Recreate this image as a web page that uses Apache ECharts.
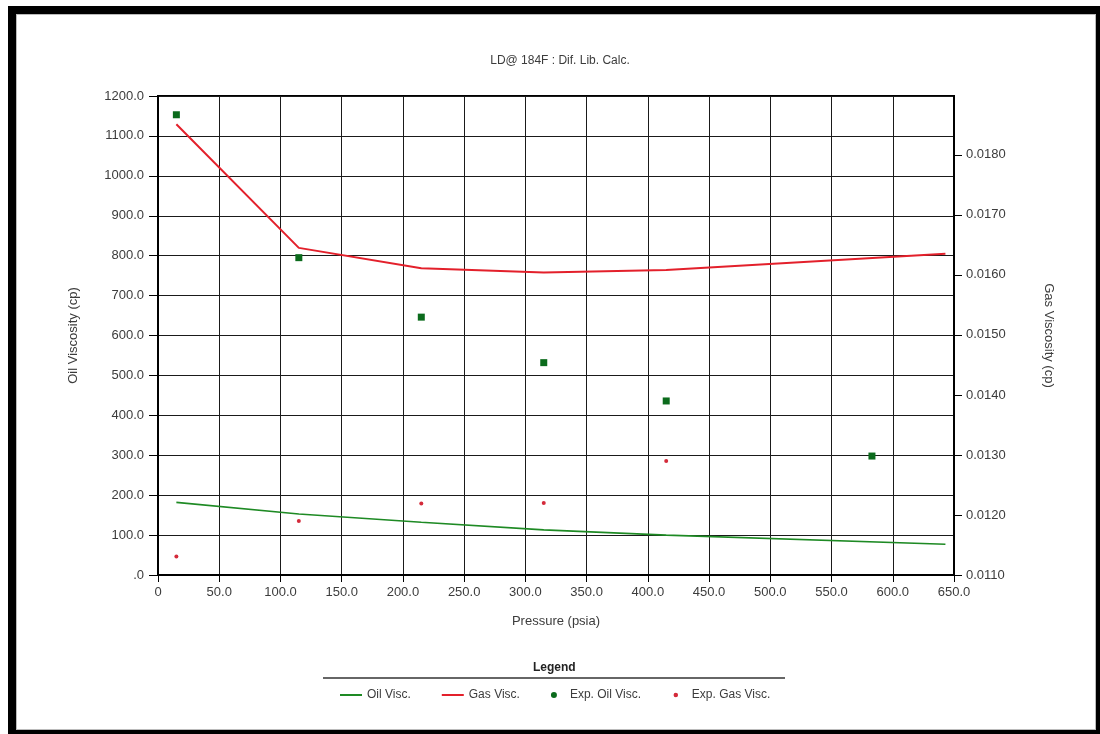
<!DOCTYPE html>
<html>
<head>
<meta charset="utf-8">
<script src="https://cdn.jsdelivr.net/npm/echarts@6/dist/echarts.min.js"></script>
<style>
  html, body { margin: 0; padding: 0; background: #fff; }
  #chart { position: absolute; left: 0; top: 0; width: 1100px; height: 734px; }
  #frame { position: absolute; left: 8px; top: 6px; width: 1092px; height: 728px; box-sizing: border-box;
           border-left: 8px solid #000; border-top: 8px solid #000; border-right: 4px solid #000; border-bottom: 4px solid #000;
           pointer-events: none; box-shadow: inset 0 0 0 1px #bbb; }
</style>
</head>
<body>
<div id="chart"></div>
<div id="frame"></div>
<script>
// ---- data ----
const calcPressure = [15, 115, 215, 315, 415, 643];
const oilVisc = [182, 153, 132, 113, 100, 77];
const gasVisc = [0.01851, 0.01645, 0.01611, 0.01604, 0.01608, 0.01635];

const expPressure = [15, 115, 215, 315, 415, 583];
const expOilVisc = [1153, 795, 646, 532, 436, 298];
const expGasPressure = [15, 115, 215, 315, 415];
const expGasVisc = [0.01131, 0.0119, 0.01219, 0.0122, 0.0129];

const gasTicks = [0.011, 0.012, 0.013, 0.014, 0.015, 0.016, 0.017, 0.018];

const titleText = 'LD@ 184F : Dif. Lib. Calc.';

const zip = (xs, ys) => xs.map((x, i) => [x, ys[i]]);

const FONT = 'Liberation Sans';
const TXT = '#3c3c3c';
const LINE_ICON = 'path://M0,0 L22,0 L22,2 L0,2 Z';

const chart = echarts.init(document.getElementById('chart'), null, { renderer: 'canvas' });
chart.setOption({
  backgroundColor: '#fff',
  animation: false,
  textStyle: { fontFamily: FONT },
  title: {
    text: titleText, left: 555, top: 50, textAlign: 'center',
    textStyle: { fontFamily: FONT, fontSize: 12, fontWeight: 'normal', color: TXT }
  },
  grid: { left: 158, right: 146, top: 96, bottom: 159, show: true, borderColor: '#000', borderWidth: 2, backgroundColor: 'transparent' },
  xAxis: {
    type: 'value', min: 0, max: 650, interval: 50,
    name: 'Pressure (psia)', nameLocation: 'middle', nameGap: 40,
    nameTextStyle: { fontFamily: FONT, fontSize: 13, color: TXT },
    axisLine: { show: true, lineStyle: { color: '#000', width: 2 } },
    axisTick: { show: true, length: 7, lineStyle: { color: '#000', width: 1 } },
    axisLabel: { margin: 11, fontFamily: FONT, fontSize: 13, color: TXT,
      formatter: v => v === 0 ? '0' : v.toFixed(1) },
    splitLine: { show: true, lineStyle: { color: '#1a1a1a', width: 1 } }
  },
  yAxis: [
    {
      type: 'value', min: 0, max: 1200, interval: 100, position: 'left',
      name: 'Oil Viscosity (cp)', nameLocation: 'middle', nameGap: 78,
      nameTextStyle: { fontFamily: FONT, fontSize: 13, color: TXT },
      axisLine: { show: true, lineStyle: { color: '#000', width: 2 } },
      axisTick: { show: true, length: 9, lineStyle: { color: '#000', width: 1 } },
      axisLabel: { margin: 14, fontFamily: FONT, fontSize: 13, color: TXT,
        formatter: v => v === 0 ? '.0' : v.toFixed(1) },
      splitLine: { show: true, lineStyle: { color: '#1a1a1a', width: 1 } }
    },
    {
      type: 'value', min: 0.011, max: 0.01898, interval: 0.001, position: 'right',
      name: 'Gas Viscosity (cp)', nameLocation: 'middle', nameGap: 88, nameRotate: -90,
      nameTextStyle: { fontFamily: FONT, fontSize: 13, color: TXT },
      axisLine: { show: true, lineStyle: { color: '#000', width: 2 } },
      axisTick: { show: true, length: 8, customValues: gasTicks, lineStyle: { color: '#000', width: 1 } },
      axisLabel: { margin: 12, fontFamily: FONT, fontSize: 13, color: TXT, customValues: gasTicks,
        formatter: v => v.toFixed(4) },
      splitLine: { show: false }
    }
  ],
  legend: {
    left: 335, top: 684, itemWidth: 22, itemHeight: 6, itemGap: 31,
    textStyle: { fontFamily: FONT, fontSize: 12, color: TXT },
    data: [
      { name: 'Oil Visc.', icon: LINE_ICON },
      { name: 'Gas Visc.', icon: LINE_ICON },
      { name: 'Exp. Oil Visc.', icon: 'circle' },
      { name: 'Exp. Gas Visc.', icon: 'circle', itemStyle: { borderWidth: 1.5, borderColor: '#fff' } }
    ]
  },
  graphic: [
    { type: 'text', left: 533, top: 662, style: { text: 'Legend', fontFamily: FONT, fontSize: 12, fontWeight: 'bold', fill: '#222' } },
    { type: 'line', shape: { x1: 323, y1: 678, x2: 785, y2: 678 }, style: { stroke: '#333', lineWidth: 1.5 } }
  ],
  series: [
    { name: 'Oil Visc.', type: 'line', xAxisIndex: 0, yAxisIndex: 0, data: zip(calcPressure, oilVisc),
      symbol: 'none', color: '#1e8a24', lineStyle: { width: 1.6, color: '#1e8a24' }, z: 3 },
    { name: 'Gas Visc.', type: 'line', xAxisIndex: 0, yAxisIndex: 1, data: zip(calcPressure, gasVisc),
      symbol: 'none', color: '#e3202b', lineStyle: { width: 2, color: '#e3202b' }, z: 3 },
    { name: 'Exp. Oil Visc.', type: 'scatter', xAxisIndex: 0, yAxisIndex: 0, data: zip(expPressure, expOilVisc),
      symbol: 'rect', symbolSize: 7, color: '#0b6b1c', itemStyle: { color: '#0b6b1c', opacity: 1 }, z: 4 },
    { name: 'Exp. Gas Visc.', type: 'scatter', xAxisIndex: 0, yAxisIndex: 1, data: zip(expGasPressure, expGasVisc),
      symbol: 'circle', symbolSize: 4, color: '#d42a3a', itemStyle: { color: '#d42a3a', opacity: 1 }, z: 4 }
  ]
});
</script>
</body>
</html>
